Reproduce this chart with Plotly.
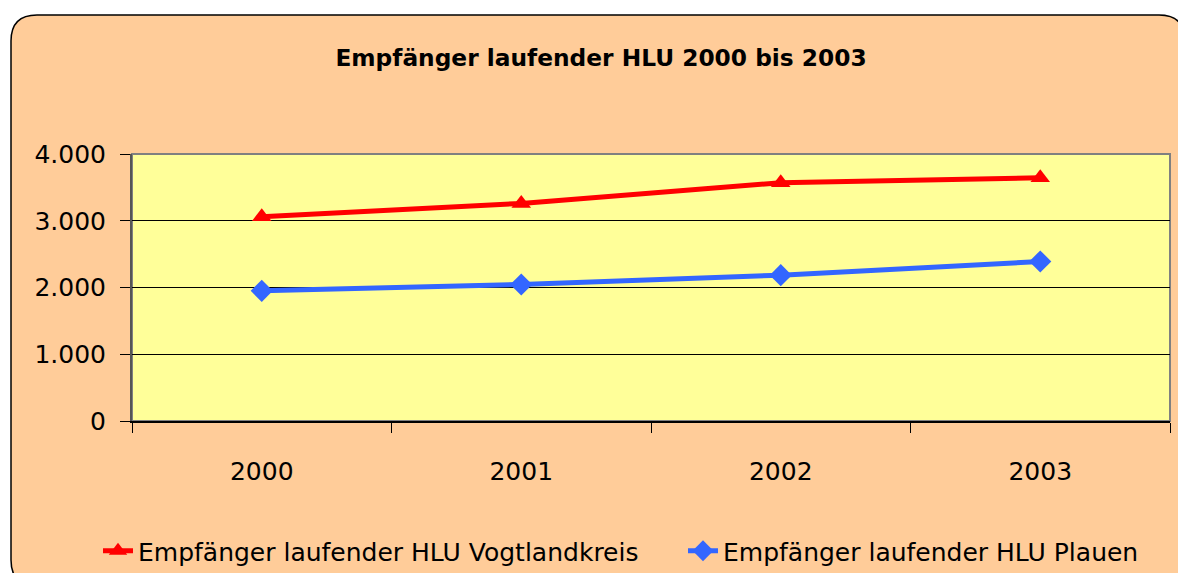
import plotly.graph_objects as go

years = ["2000", "2001", "2002", "2003"]
vogtland = [3060, 3260, 3570, 3645]
plauen = [1950, 2045, 2185, 2390]
name_v = "Empfänger laufender HLU Vogtlandkreis"
name_p = "Empfänger laufender HLU Plauen"
title = "Empfänger laufender HLU 2000 bis 2003"
yticks = [0, 1000, 2000, 3000, 4000]

W, H = 1178, 573
L, R, T, B = 132, 1170, 154, 421

def px(x):
    return (x - L) / (R - L)

def py(y):
    return (B - y) / (B - T)

def card_path(x0, y0, x1, y1, r):
    pts = [
        f"M {px(x0 + r)} {py(y0)}",
        f"L {px(x1 - r)} {py(y0)}",
        f"Q {px(x1)} {py(y0)} {px(x1)} {py(y0 + r)}",
        f"L {px(x1)} {py(y1 - r)}",
        f"Q {px(x1)} {py(y1)} {px(x1 - r)} {py(y1)}",
        f"L {px(x0 + r)} {py(y1)}",
        f"Q {px(x0)} {py(y1)} {px(x0)} {py(y1 - r)}",
        f"L {px(x0)} {py(y0 + r)}",
        f"Q {px(x0)} {py(y0)} {px(x0 + r)} {py(y0)}",
        "Z",
    ]
    return " ".join(pts)

fig = go.Figure()
fig.add_trace(go.Scatter(
    x=years, y=vogtland, name=name_v, mode="lines+markers",
    line=dict(color="#FF0000", width=5),
    marker=dict(symbol="triangle-up", size=17, color="#FF0000"),
))
fig.add_trace(go.Scatter(
    x=years, y=plauen, name=name_p, mode="lines+markers",
    line=dict(color="#3366FF", width=5),
    marker=dict(symbol="diamond", size=17, color="#3366FF"),
))

fig.add_shape(type="path", xref="paper", yref="paper", layer="below",
              path=card_path(11, 15, 1185, 586, 26),
              fillcolor="#FFCC99", line=dict(color="black", width=1.5))
fig.add_shape(type="rect", xref="paper", yref="paper", layer="below",
              x0=0, x1=1, y0=0, y1=1,
              fillcolor="#FFFF99", line=dict(color="#808080", width=2))

fig.update_layout(
    width=W, height=H,
    margin=dict(l=L, r=W - R, t=T, b=H - B, autoexpand=False),
    paper_bgcolor="white",
    plot_bgcolor="rgba(0,0,0,0)",
    separators=",.",
    font=dict(family="DejaVu Sans", color="black", size=22),
    title=dict(text=f"<b>{title}</b>", x=px(601), xanchor="center", xref="paper",
               y=1 - 58 / H, yanchor="middle", yref="container",
               font=dict(family="DejaVu Sans", size=23.3, color="black")),
    showlegend=True,
    legend=dict(orientation="h", x=px(98), xanchor="left",
                y=py(551), yanchor="middle",
                entrywidth=540, entrywidthmode="pixels",
                bgcolor="rgba(0,0,0,0)",
                font=dict(family="DejaVu Sans", size=25)),
)
fig.update_xaxes(
    type="category", range=[-0.5, 3.5], tickson="boundaries",
    ticks="outside", ticklen=10, tickcolor="black", tickwidth=1,
    showline=True, linecolor="black", linewidth=1.5,
    showgrid=False, ticklabelstandoff=27,
    tickfont=dict(family="DejaVu Sans", size=25),
)
fig.update_yaxes(
    range=[0, 4000], tickvals=yticks, tickformat=",d",
    ticks="outside", ticklen=10, tickcolor="black", tickwidth=1,
    showline=True, linecolor="#555555", linewidth=2,
    showgrid=True, gridcolor="black", gridwidth=1,
    zeroline=False, ticklabelstandoff=9,
    tickfont=dict(family="DejaVu Sans", size=25),
)

fig.write_html("out.html", config={"displayModeBar": False},
               post_script="document.body.style.margin='0';document.body.style.overflow='hidden';")
